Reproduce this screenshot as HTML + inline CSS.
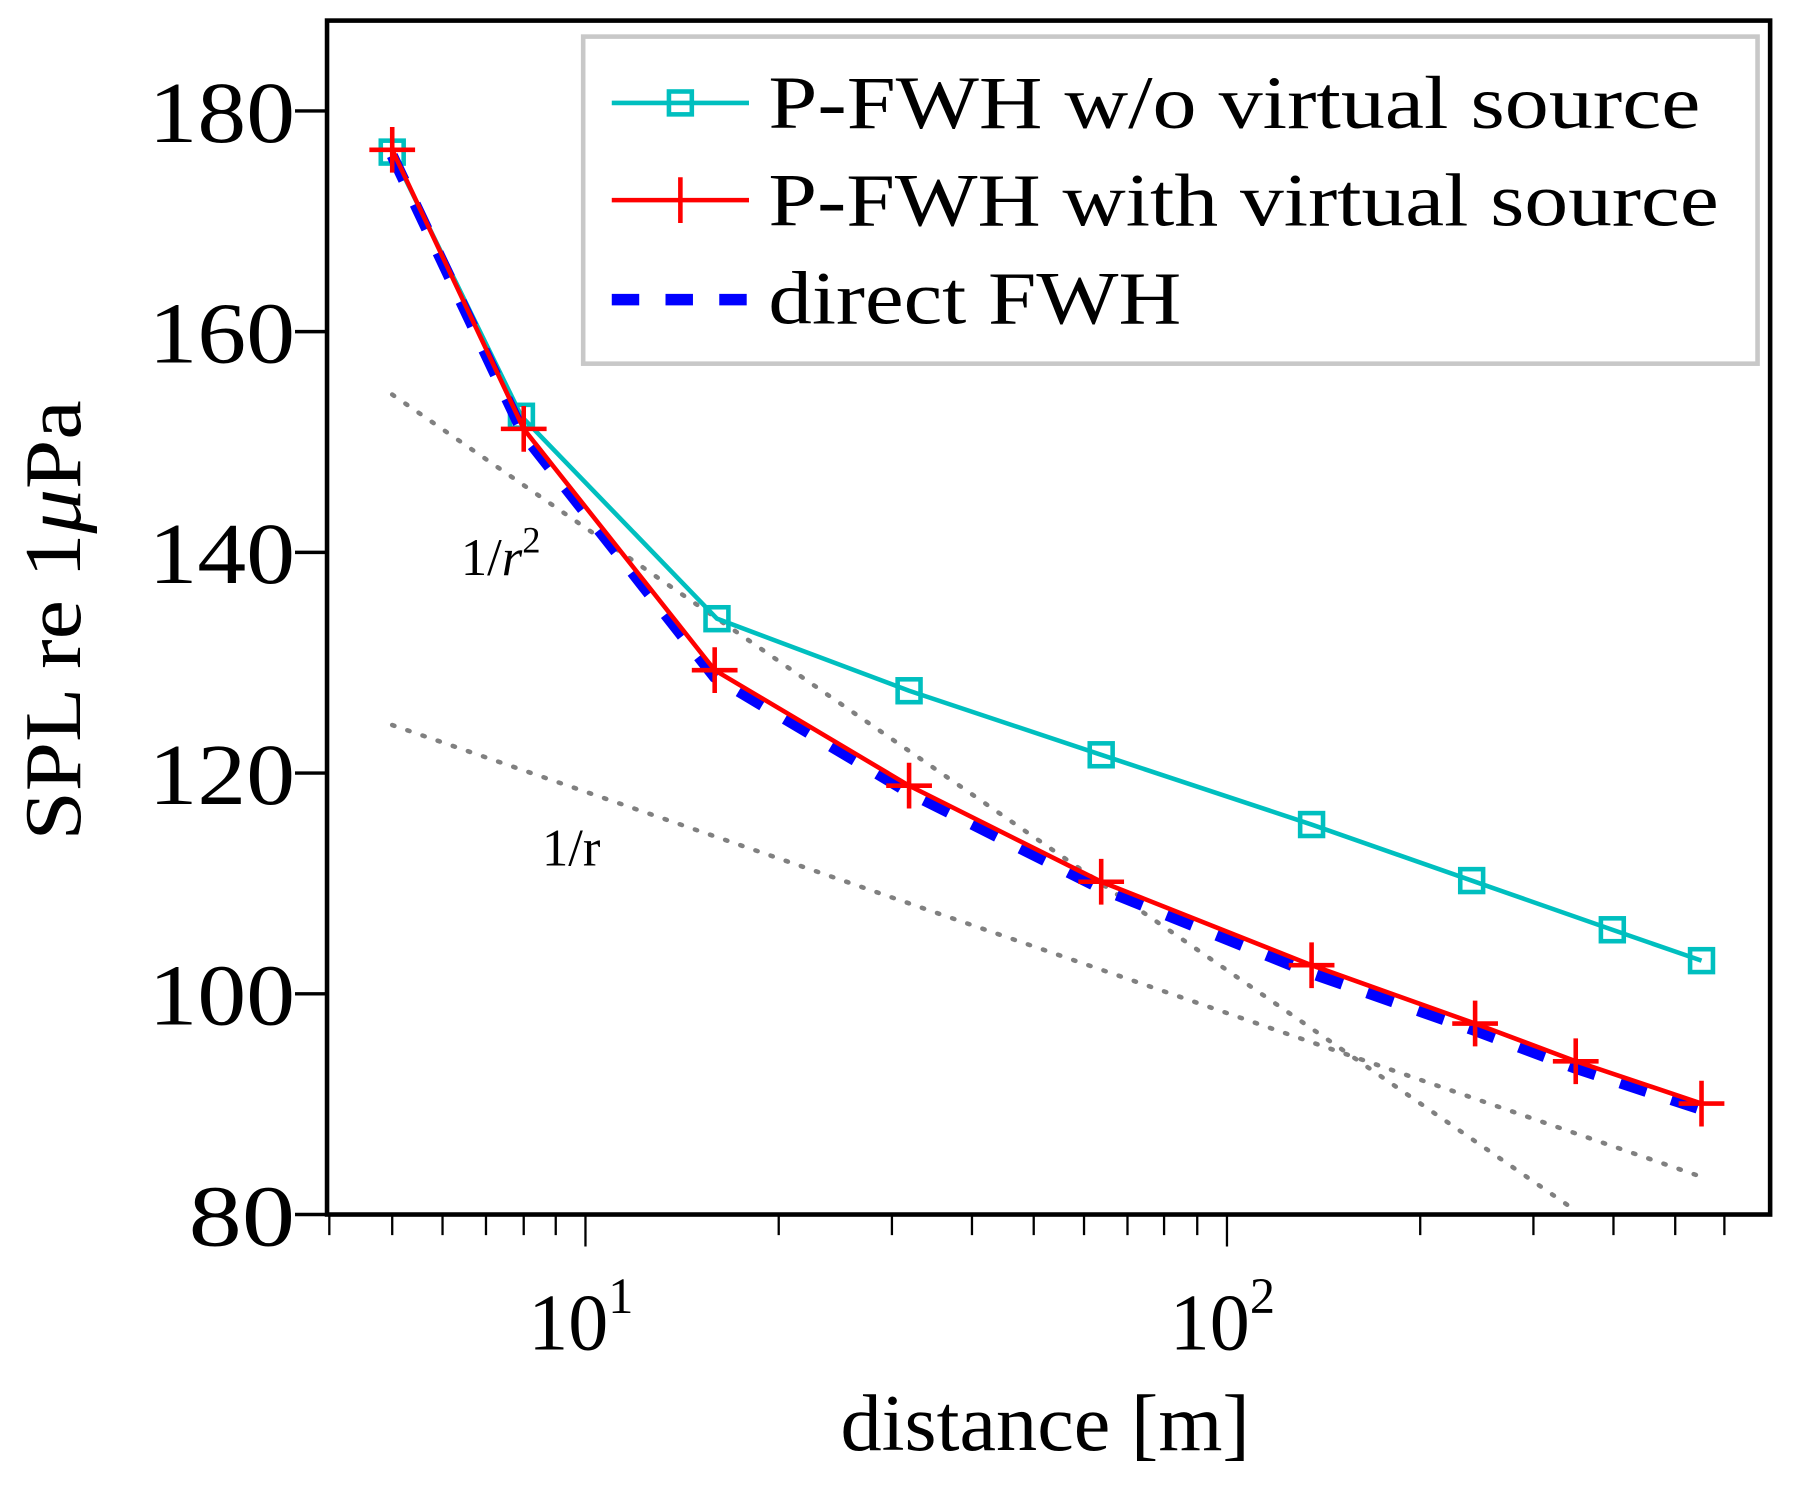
<!DOCTYPE html>
<html><head><meta charset="utf-8"><style>
html,body{margin:0;padding:0;background:#fff;}
svg{display:block;}
text{font-family:"Liberation Serif",serif;fill:#000;}
</style></head><body>
<svg width="1793" height="1497" viewBox="0 0 1568 1309" preserveAspectRatio="none" xmlns="http://www.w3.org/2000/svg">
<rect x="0" y="0" width="1568" height="1309" fill="#fff"/>
<line x1="343" y1="345" x2="1380" y2="1060" stroke="#808080" stroke-width="4" stroke-dasharray="2,12" stroke-linecap="round"/>
<line x1="343" y1="634" x2="1485" y2="1028" stroke="#808080" stroke-width="4" stroke-dasharray="2,12" stroke-linecap="round"/>
<text x="403" y="503" font-size="46">1/<tspan font-style="italic">r</tspan><tspan font-size="32" dy="-20">2</tspan></text>
<text x="474" y="757" font-size="46">1/r</text>
<polyline fill="none" stroke="#00bfbf" stroke-width="4" points="343,133 456,364 627,541 795,604 963,660 1147,721 1287,770 1410,813 1488,840"/>
<g fill="none" stroke="#00bfbf" stroke-width="4">
<rect x="333" y="123" width="20" height="20"/><rect x="446" y="354" width="20" height="20"/><rect x="617" y="531" width="20" height="20"/><rect x="785" y="594" width="20" height="20"/><rect x="953" y="650" width="20" height="20"/><rect x="1137" y="711" width="20" height="20"/><rect x="1277" y="760" width="20" height="20"/><rect x="1400" y="803" width="20" height="20"/><rect x="1478" y="830" width="20" height="20"/>
</g>
<polyline fill="none" stroke="#0000ff" stroke-width="10" stroke-dasharray="24,23" points="343,136 458,380 625,592 795,693 963,777 1147,851 1290,901 1378,934 1488,970"/>
<polyline fill="none" stroke="#ff0000" stroke-width="4" points="343,131 458,375 625,586 795,687 963,771 1147,844 1290,895 1378,928 1488,965"/>
<g stroke="#ff0000" stroke-width="4">
<path d="M323,131h40M343,111v40"/><path d="M438,375h40M458,355v40"/><path d="M605,586h40M625,566v40"/><path d="M775,687h40M795,667v40"/><path d="M943,771h40M963,751v40"/><path d="M1127,844h40M1147,824v40"/><path d="M1270,895h40M1290,875v40"/><path d="M1358,928h40M1378,908v40"/><path d="M1468,965h40M1488,945v40"/>
</g>
<rect x="510" y="32" width="1027" height="286" fill="#fff" stroke="#c8c8c8" stroke-width="4"/>
<line x1="535" y1="90" x2="655" y2="90" stroke="#00bfbf" stroke-width="4"/>
<rect x="585" y="80" width="20" height="20" fill="none" stroke="#00bfbf" stroke-width="4"/>
<line x1="535" y1="175" x2="655" y2="175" stroke="#ff0000" stroke-width="4"/>
<line x1="595" y1="155" x2="595" y2="195" stroke="#ff0000" stroke-width="4"/>
<line x1="535" y1="262" x2="655" y2="262" stroke="#0000ff" stroke-width="10" stroke-dasharray="24,23"/>
<text x="672" y="112" font-size="66" textLength="815" lengthAdjust="spacingAndGlyphs">P-FWH w/o virtual source</text>
<text x="672" y="197" font-size="66" textLength="831" lengthAdjust="spacingAndGlyphs">P-FWH with virtual source</text>
<text x="672" y="283" font-size="66" textLength="361" lengthAdjust="spacingAndGlyphs">direct FWH</text>
<rect x="286" y="18" width="1262" height="1044" fill="none" stroke="#000" stroke-width="4"/>
<g stroke="#000" stroke-width="3">
<path d="M258,97h28M258,290h28M258,483h28M258,676h28M258,869h28M258,1062h28"/>
</g>
<g font-size="76">
<text x="130" y="124" textLength="128" lengthAdjust="spacingAndGlyphs">180</text><text x="130" y="317" textLength="128" lengthAdjust="spacingAndGlyphs">160</text><text x="130" y="510" textLength="128" lengthAdjust="spacingAndGlyphs">140</text><text x="130" y="703" textLength="128" lengthAdjust="spacingAndGlyphs">120</text><text x="130" y="896" textLength="128" lengthAdjust="spacingAndGlyphs">100</text><text x="165" y="1089" textLength="93" lengthAdjust="spacingAndGlyphs">80</text>
</g>
<g stroke="#000" stroke-width="2">
<path d="M288,1062v18M343,1062v18M387,1062v18M425,1062v18M458,1062v18M486,1062v18M512,1062v28
M681,1062v18M780,1062v18M850,1062v18M904,1062v18M948,1062v18M986,1062v18M1018,1062v18M1047,1062v18M1073,1062v28
M1242,1062v18M1341,1062v18M1411,1062v18M1465,1062v18M1508,1062v18"/>
</g>
<text x="462" y="1180" font-size="70">10<tspan font-size="44" dy="-32">1</tspan></text>
<text x="1023" y="1180" font-size="70">10<tspan font-size="44" dy="-32">2</tspan></text>
<text x="735" y="1268" font-size="70" textLength="358" lengthAdjust="spacingAndGlyphs">distance [m]</text>
<text transform="translate(70,735) rotate(-90)" font-size="70" textLength="385" lengthAdjust="spacingAndGlyphs">SPL re 1<tspan font-style="italic">μ</tspan>Pa</text>
</svg>
</body></html>
